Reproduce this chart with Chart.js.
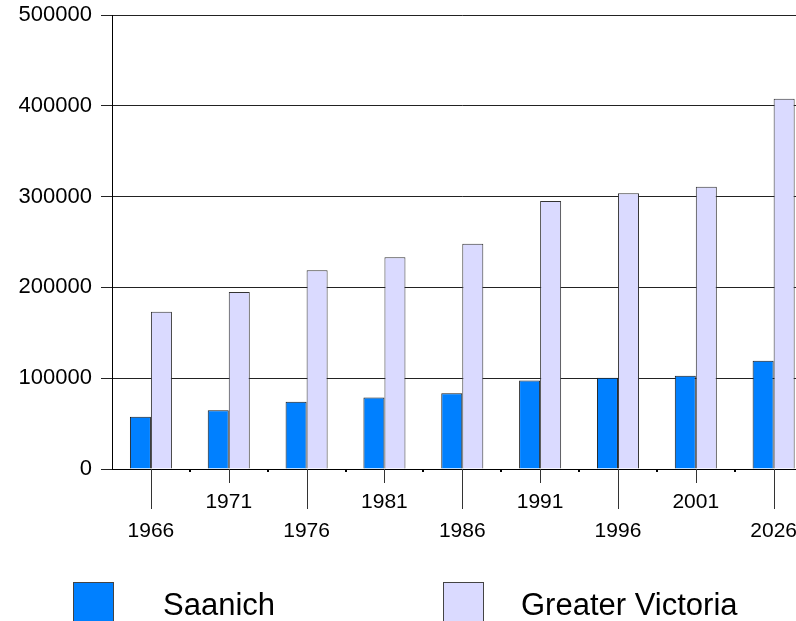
<!DOCTYPE html>
<html>
<head>
<meta charset="utf-8">
<script src="https://cdn.jsdelivr.net/npm/chart.js@4.4.1/dist/chart.umd.min.js"></script>
<style>
  html, body { margin: 0; padding: 0; background: #fff; overflow: hidden; }
  #wrap { position: absolute; left: 0; top: 0; width: 816px; height: 621px; }
</style>
</head>
<body>
<div id="wrap"><canvas id="myChart" width="816" height="621"></canvas></div>
<script>
const years = ['1966', '1971', '1976', '1981', '1986', '1991', '1996', '2001', '2026'];
const saanich = [57600, 64600, 74100, 78700, 83400, 97500, 100500, 102700, 119300];
const greaterVictoria = [173200, 195000, 219000, 233200, 248000, 295100, 303600, 310900, 407800];
const yTicks = [0, 100000, 200000, 300000, 400000, 500000];

const FONT = '"Liberation Sans", Arial, sans-serif';

// staggered labels: even ones drop to the second row
const xLabels = years.map((y, i) => i % 2 === 0 ? ['', y] : [y]);

const tickPlugin = {
    id: 'ticks_and_legend',
    afterDraw: (chart) => {
        const ctx = chart.ctx;
        const x = chart.scales.x;
        const bottom = chart.chartArea.bottom;
        ctx.save();
        // tick lines under each category
        ctx.strokeStyle = '#333';
        ctx.lineWidth = 1;
        for (let i = 0; i < years.length; i++) {
            const px = Math.round(x.getPixelForTick(i)) + 0.5;
            ctx.beginPath();
            ctx.moveTo(px, bottom);
            ctx.lineTo(px, bottom + (i % 2 === 0 ? 40 : 14));
            ctx.stroke();
        }
        // small marks between categories
        ctx.fillStyle = '#000';
        for (let i = 1; i < years.length; i++) {
            const px = (x.getPixelForTick(i - 1) + x.getPixelForTick(i)) / 2;
            ctx.fillRect(Math.round(px) - 1, bottom, 2, 3);
        }
        // legend
        const items = [
            {ds: chart.data.datasets[0], box: 73, text: 163},
            {ds: chart.data.datasets[1], box: 443, text: 521}
        ];
        ctx.font = '31px ' + FONT;
        ctx.textBaseline = 'alphabetic';
        items.forEach(it => {
            ctx.fillStyle = it.ds.backgroundColor;
            ctx.fillRect(it.box, 582, 40, 45);
            ctx.strokeStyle = '#444';
            ctx.strokeRect(it.box + 0.5, 582.5, 40, 45);
            ctx.fillStyle = '#000';
            ctx.fillText(it.ds.label, it.text, 615);
        });
        ctx.restore();
    }
};

const ctx = document.getElementById('myChart').getContext('2d');

const myChart = new Chart(ctx, {
    type: 'bar',
    plugins: [tickPlugin],
    data: {
        labels: xLabels,
        datasets: [{
            label: 'Saanich',
            data: saanich,
            backgroundColor: '#0080ff',
            borderColor: '#1a1a1a',
            borderWidth: 1
        }, {
            label: 'Greater Victoria',
            data: greaterVictoria,
            backgroundColor: '#dadaff',
            borderColor: '#333',
            borderWidth: 1
        }]
    },
    options: {
        responsive: false,
        animation: false,
        devicePixelRatio: 1,
        layout: { padding: { top: 15, left: 0, right: 0, bottom: 0 } },
        datasets: {
            bar: { categoryPercentage: 0.54, barPercentage: 1 }
        },
        plugins: {
            legend: { display: false },
            tooltip: { enabled: false }
        },
        scales: {
            x: {
                grid: { display: false, drawTicks: false },
                border: { display: true, color: '#000', width: 1 },
                ticks: {
                    color: '#000',
                    font: { family: FONT, size: 21, lineHeight: 1.38 },
                    padding: 19,
                    maxRotation: 0,
                    autoSkip: false
                },
                afterFit: (scale) => { scale.height = 152; }
            },
            y: {
                min: 0,
                max: 500000,
                afterBuildTicks: (scale) => { scale.ticks = yTicks.map(v => ({value: v})); },
                grid: { color: '#222', lineWidth: 1, tickLength: 11, tickColor: '#222' },
                border: { display: true, color: '#000', width: 1 },
                ticks: {
                    color: '#000',
                    font: { family: FONT, size: 22 },
                    padding: 9,
                    callback: (v) => String(v)
                },
                afterFit: (scale) => {
                    scale.width = 112;
                    scale.paddingTop = 0;
                    scale.paddingBottom = 0;
                }
            }
        }
    }
});
</script>
</body>
</html>
